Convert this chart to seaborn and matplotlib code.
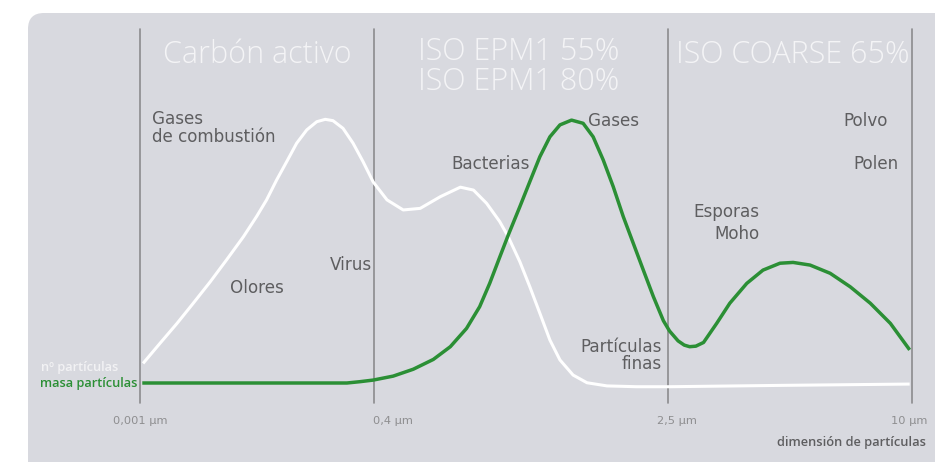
import matplotlib
matplotlib.use("Agg")
import matplotlib.pyplot as plt
from matplotlib.patches import FancyBboxPatch
import seaborn as sns
import pandas as pd

# position along the size axis (0 = 0,001 um ... 100 = 10 um), relative level 0-100
white_x = [0.4, 2.6, 4.8, 6.9, 9.1, 11.2, 13.4, 15.1, 16.4, 17.7, 19.0, 20.3, 21.6, 22.9,
           24.0, 25.0, 26.3, 27.6, 28.9, 30.2, 32.0, 34.1, 36.3, 38.9, 41.5, 43.2, 44.9,
           46.6, 47.7, 49.2, 50.5, 51.8, 53.1, 54.4, 56.1, 57.9, 60.5, 64.3, 68.7, 82.9, 99.7]
white_y = [7.4, 15.0, 22.5, 30.1, 38.2, 46.4, 55.2, 62.8, 69.1, 76.6, 83.5, 90.5, 95.5, 98.6,
           99.5, 99.0, 96.1, 90.5, 83.5, 75.9, 69.1, 65.3, 65.9, 70.3, 73.9, 72.8, 67.8,
           60.9, 55.2, 45.8, 36.3, 26.3, 16.2, 8.7, 3.0, 0.1, -1.1, -1.4, -1.4, -0.9, -0.4]

green_x = [0.3, 26.8, 28.5, 30.2, 32.8, 35.4, 38.0, 40.2, 42.3, 44.0, 45.3, 46.6, 47.7, 49.2,
           50.5, 51.8, 53.1, 54.4, 55.9, 57.4, 58.7, 60.0, 61.3, 62.6, 63.9, 65.2, 66.5, 67.8,
           68.6, 69.7, 70.5, 71.2, 72.0, 73.0, 74.7, 76.4, 78.6, 80.7, 82.9, 84.6, 86.8, 89.4,
           92.0, 94.6, 97.2, 99.7]
green_y = [0.0, 0.0, 0.5, 1.1, 2.6, 5.2, 8.9, 13.7, 20.6, 28.8, 37.6, 47.5, 55.8, 66.5,
           76.0, 85.4, 92.9, 97.4, 99.2, 98.0, 92.9, 84.2, 74.1, 62.8, 52.7, 42.6, 32.6, 23.5,
           19.6, 15.9, 14.3, 13.7, 13.9, 15.3, 22.5, 30.1, 37.6, 42.6, 45.2, 45.5, 44.5, 41.4,
           36.3, 30.1, 22.5, 12.5]

boundaries = [0, 30.3, 68.4, 100]
tick_labels = ["0,001 µm", "0,4 µm", "2,5 µm", "10 µm"]
tick_pos = [0, 32.8, 69.6, 99.7]

# zone headings: (text, x, baseline of last line)
zones = [
    ("Carbón activo", 15.2, 120.9),
    ("ISO EPM1 55%\nISO EPM1 80%", 49.1, 110.6),
    ("ISO COARSE 65%", 84.5, 120.9),
]

# particle labels: (text, x, baseline, ha)
labels = [
    ("Gases", 1.55, 97.7, "left"),
    ("de combustión", 1.55, 91.1, "left"),
    ("Olores", 15.1, 33.8, "center"),
    ("Virus", 30.05, 42.6, "right"),
    ("Bacterias", 40.4, 80.8, "left"),
    ("Gases", 58.0, 97.0, "left"),
    ("Partículas", 67.6, 11.6, "right"),
    ("finas", 67.6, 5.4, "right"),
    ("Esporas", 80.2, 62.6, "right"),
    ("Moho", 80.2, 54.3, "right"),
    ("Polvo", 96.8, 97.0, "right"),
    ("Polen", 98.3, 80.8, "right"),
]

GREEN = "#2b8f35"
BG = "#d8d9df"
TEXT = "#5e5e60"

sns.set_theme(style="white")
plt.rcParams["font.family"] = ["DejaVu Sans"]

fig = plt.figure(figsize=(9.35, 4.62), dpi=100)
fig.patch.set_facecolor("white")
card = FancyBboxPatch((0.28, -1.0), 10.0, 5.49, boxstyle="round,pad=0,rounding_size=0.16",
                      transform=fig.dpi_scale_trans, facecolor=BG, edgecolor="none", zorder=-10)
fig.patches.append(card)

ax = fig.add_axes([0, 0, 1, 1])
ax.patch.set_alpha(0)
ax.set_xlim(-18.13, 102.98)
ax.set_ylim(-29.81, 144.53)
ax.axis("off")

for b in boundaries:
    ax.plot([b, b], [-7.5, 133.6], color="#8c8c8e", lw=1.2, zorder=1)

white = pd.DataFrame({"x": white_x, "y": white_y})
green = pd.DataFrame({"x": green_x, "y": green_y})
sns.lineplot(data=white, x="x", y="y", ax=ax, color="white", lw=2.2, sort=False, zorder=3,
             solid_joinstyle="round", solid_capstyle="butt")
sns.lineplot(data=green, x="x", y="y", ax=ax, color=GREEN, lw=2.5, sort=False, zorder=4,
             solid_joinstyle="round", solid_capstyle="butt")

for t, x, y in zones:
    ax.text(x, y, t, ha="center", va="baseline", fontsize=22, color="#f4f4f6",
            family=["Open Sans", "DejaVu Sans"], fontweight="light", linespacing=0.9,
            multialignment="center")

for t, x, y, ha in labels:
    ax.text(x, y, t, ha=ha, va="baseline", fontsize=12.1, color=TEXT)

for t, x in zip(tick_labels, tick_pos):
    ax.text(x, -14.3, t, ha="center", va="center", fontsize=8.2, color="#8e8e90")

small = dict(ha="right", va="center", family=["Open Sans", "DejaVu Sans"], fontweight="semibold")
ax.text(101.8, -22.6, "dimensión de partículas", fontsize=9.3, color=TEXT, **small)
ax.text(-2.85, 5.7, "nº partículas", fontsize=9.2, color="#f2f2f4", **small)
ax.text(-0.39, 0.0, "masa partículas", fontsize=9.2, color=GREEN, **small)

fig.savefig("out.png", dpi=100)
